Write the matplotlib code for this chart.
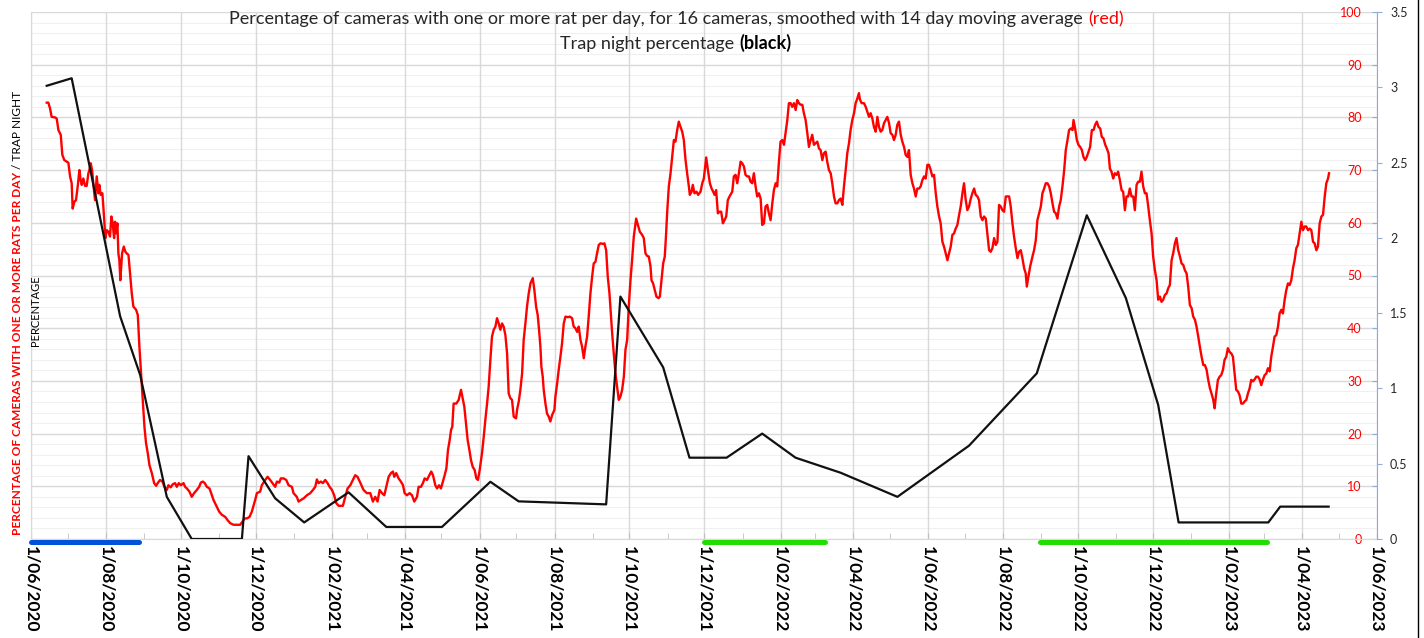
import pandas as pd
import matplotlib
matplotlib.use('Agg')
import matplotlib.pyplot as plt
import matplotlib.dates as mdates
from matplotlib.ticker import FuncFormatter
from matplotlib.lines import Line2D
from matplotlib.offsetbox import TextArea, HPacker, VPacker, AnchoredOffsetbox

plt.rcParams['font.family'] = ['Lato', 'DejaVu Sans']

start = pd.Timestamp('2020-06-01')

# red series: days after 1/06/2020 and % of cameras (14 day moving average)
red_day = [
    12.8, 14.1, 15.5, 16.8, 19.5, 20.9, 22.3, 24.2, 25.5, 27.1, 29.0, 30.4, 31.8, 33.1, 33.9, 35.3,
    36.6, 38.0, 39.4, 40.4, 41.3, 42.6, 44.0, 45.3, 46.7, 47.5, 48.6, 49.7, 50.8, 52.1, 53.5, 54.8,
    55.6, 56.7, 58.1, 59.4, 60.5, 61.6, 63.0, 64.3, 65.4, 66.5, 67.6, 68.4, 69.2, 70.3, 71.1, 71.9,
    72.7, 74.1, 75.5, 76.8, 77.9, 79.3, 80.6, 82.0, 83.3, 85.5, 86.9, 88.2, 89.6, 90.9, 92.3, 93.6,
    95.0, 96.4, 98.3, 100.2, 101.8, 103.1, 105.0, 106.9, 108.6, 110.5, 111.8, 113.7, 115.4, 117.3,
    118.6, 120.3, 121.9, 124.1, 125.4, 126.8, 128.9, 130.8, 132.7, 134.9, 136.8, 138.2, 139.8, 141.4,
    143.1, 145.2, 146.6, 148.5, 151.2, 153.1, 155.3, 158.0, 159.9, 162.1, 164.8, 167.5, 170.2, 172.1,
    173.7, 175.6, 177.8, 179.7, 182.4, 183.8, 186.5, 187.8, 190.6, 192.5, 194.6, 196.5, 198.7, 200.1,
    202.0, 203.3, 205.5, 207.7, 209.6, 212.3, 213.6, 216.3, 217.7, 219.6, 221.8, 224.5, 227.2, 229.4,
    231.3, 232.6, 234.0, 235.9, 237.5, 239.4, 241.3, 243.0, 244.9, 246.7, 248.4, 250.3, 252.2, 253.8,
    255.7, 257.6, 259.8, 261.9, 263.8, 265.7, 267.9, 270.6, 273.3,
    276.1, 278.2, 280.1, 282.0, 283.7, 285.6, 287.5, 289.1, 291.0, 292.9, 294.5, 295.6, 297.2, 299.1,
    301.0, 302.7, 304.0, 305.9, 308.1, 310.0, 311.9, 314.1, 315.4, 317.3, 318.9, 320.3, 322.2, 324.1,
    325.7, 327.1, 329.0, 330.4, 332.0, 333.6, 335.2, 336.6, 338.0, 339.3, 340.7, 341.8, 342.8, 343.9,
    346.1, 348.0, 349.9, 351.5, 352.6, 354.0, 355.3, 356.7, 358.0, 359.4, 361.0, 362.4, 363.7, 365.1,
    367.0, 368.4, 369.7, 371.1, 372.4, 373.8, 375.1, 376.5, 377.9, 379.2, 380.6, 381.9, 383.3, 384.6,
    386.0, 387.4, 388.7, 390.1, 391.4, 392.8, 394.7, 395.5, 396.9, 398.2, 399.6, 400.9, 402.3, 403.6,
    405.0, 406.4, 408.3, 409.6, 411.0, 412.3, 413.4, 414.5, 415.3, 416.4, 417.2, 418.6, 419.9, 421.3,
    422.6, 424.0, 425.9, 426.7, 428.1, 429.4, 430.8, 432.1, 433.5, 434.9, 436.8, 438.4, 440.3, 441.6,
    443.0, 444.4, 445.7, 447.1, 448.4, 449.8, 451.1, 452.5, 453.8, 455.2, 456.6, 457.9, 459.3, 460.6,
    462.0, 463.4, 465.3, 466.6, 468.0, 469.3, 470.7, 471.8, 472.9, 474.2, 475.6, 476.9, 478.3, 479.6,
    481.0, 482.4, 483.7, 485.1, 486.4, 487.8, 489.1, 490.5, 492.4, 493.8, 495.4, 497.3, 498.6, 500.0,
    501.4, 502.7, 504.1, 504.9, 506.2, 507.6, 508.9, 510.6, 511.7, 513.0, 514.4, 515.7, 516.8, 517.6,
    519.0, 520.4, 521.7, 523.1, 524.4, 525.8, 527.1, 528.5, 529.9, 531.2, 532.6, 533.9, 535.3, 536.1,
    537.5, 538.5, 539.9, 541.5, 542.9, 544.8,
    546.2, 547.5, 549.4, 550.8, 552.4, 553.8, 555.1, 556.2, 557.5, 558.9, 560.3, 561.6, 563.0, 564.3,
    565.7, 567.0, 568.4, 570.6, 571.9, 573.3, 574.7, 576.0, 577.4, 578.7, 580.1, 581.4, 582.8, 584.2,
    585.5, 586.9, 588.2, 589.6, 590.9, 592.3, 593.7, 595.0, 596.4, 597.7, 599.1, 600.4, 601.8, 603.2,
    604.5, 605.9, 607.2, 608.6, 609.9, 611.3, 612.7, 614.0, 615.4, 616.7, 618.1, 619.4, 620.8, 622.2,
    623.5, 624.9, 626.2, 627.6, 628.9, 630.3, 631.7, 633.0, 634.4, 635.7, 637.1, 638.4, 639.8, 641.2,
    642.5, 643.9, 645.2, 646.6, 647.9, 649.3, 650.7, 652.0, 653.4, 654.7, 656.1, 657.4, 658.8, 660.2,
    661.5, 662.9, 664.2, 665.6, 666.9, 668.3, 669.7, 671.0, 672.4, 673.7, 674.5, 675.9, 677.8, 679.2,
    680.5, 681.9, 683.2, 684.6, 685.9, 687.3, 688.7, 690.0, 691.4, 692.7, 694.1, 695.4, 696.8, 698.2,
    699.5, 700.9, 702.2, 703.6, 704.9, 706.3, 707.7, 709.0, 710.4, 711.7, 713.1, 714.4, 715.8, 717.2,
    718.5, 719.9, 721.2, 722.6, 723.9, 725.3, 726.7, 728.0, 729.4, 730.7, 732.1, 733.4, 734.8, 736.2,
    737.5, 738.9, 740.2, 741.6, 742.9, 744.3, 745.7, 747.0, 748.4, 749.7, 751.1, 752.4, 753.8, 755.2,
    756.5, 757.9, 759.2, 760.6, 761.9, 763.3, 764.7, 766.0, 767.4, 768.7, 770.1, 771.4, 772.8, 774.2,
    775.5, 776.9, 778.2, 779.6, 780.9, 782.3, 783.7, 785.0, 786.4, 787.7, 789.1, 790.4, 791.8, 793.2,
    794.5, 795.9, 797.2, 798.6, 799.9, 801.3, 802.7, 804.0, 805.4, 806.7, 808.1, 809.4, 810.3, 811.6,
    813.0,
    814.9, 816.2, 817.6, 818.9, 820.3, 821.7, 823.0, 824.4, 825.7, 827.1, 828.5, 829.8, 831.2, 832.5,
    833.9, 835.2, 836.6, 837.9, 839.3, 840.7, 842.0, 843.4, 844.7, 846.1, 847.5, 848.3, 849.6, 851.0,
    852.3, 853.7, 855.1, 856.4, 857.8, 859.1, 860.5, 861.8, 863.2, 864.6, 865.9, 867.3, 868.6, 870.0,
    871.3, 872.7, 874.1, 875.4, 876.8, 877.9, 879.2, 880.6, 881.9, 883.3, 884.6, 886.0, 887.4, 888.7,
    890.1, 891.4, 892.8, 894.1, 895.5, 896.9, 898.2, 899.6, 900.9, 902.3, 903.6, 905.0, 906.4, 907.7,
    909.1, 910.4, 911.8, 913.1, 914.5, 915.9, 917.2, 918.6, 919.9, 921.3, 922.6, 924.0, 925.4, 926.7,
    928.1, 929.4, 930.8, 932.1, 933.5, 934.9, 936.2, 937.6, 938.9, 940.3, 941.6, 943.0, 944.4, 945.7,
    947.1, 948.4, 949.8, 951.1, 952.5, 953.9, 955.2, 956.6, 957.9, 959.3, 960.6, 962.0, 963.1, 964.4,
    965.8, 967.2, 968.5, 969.9, 971.2, 972.6, 973.9, 975.3, 976.7, 978.0, 979.4, 980.7, 982.1, 983.4,
    984.8, 986.2, 987.5, 988.9, 990.2, 991.6, 992.9, 994.3, 995.7, 997.0, 998.4, 999.7, 1001.1, 1002.4,
    1003.8, 1005.2, 1006.5, 1007.9, 1009.2, 1010.6, 1011.9, 1013.3, 1014.7, 1016.0, 1017.4, 1018.7,
    1020.1, 1021.4, 1022.8, 1024.2, 1025.5, 1026.9, 1028.2, 1029.6, 1030.9, 1032.3, 1033.7, 1035.0,
    1036.4, 1037.7, 1039.1, 1040.5, 1041.8, 1043.2, 1044.5, 1045.9, 1047.2, 1048.6, 1050.0, 1051.3,
    1052.7, 1054.0, 1055.4, 1056.2,
]
red_pct = [
    82.8, 82.8, 81.7, 80.1, 80.0, 79.8, 77.6, 76.7, 72.9, 71.9, 71.6, 71.4, 68.8, 67.5, 62.7, 64.0,
    64.3, 66.9, 70.0, 68.1, 67.2, 68.4, 67.0, 67.0, 69.4, 70.0, 71.3, 70.0, 67.2, 64.3, 68.8, 65.6,
    67.2, 65.3, 65.6, 61.2, 57.1, 58.6, 58.3, 57.4, 61.2, 59.9, 57.1, 60.2, 58.0, 59.9, 54.2, 52.9,
    49.1, 54.2, 55.5, 54.5, 54.2, 53.9, 50.4, 46.6, 44.1, 43.5, 42.5, 36.5, 31.4, 26.4, 21.3, 18.2,
    16.3, 14.0, 12.5, 10.6, 10.1, 10.6, 11.2, 10.9, 9.9, 9.3, 10.2, 9.8, 10.4, 10.6,
    9.9, 10.6, 10.2, 10.6, 9.9, 9.6, 9.0, 8.0, 8.7, 9.3, 9.9, 10.7, 10.9, 10.6,
    9.9, 9.6, 8.7, 7.4, 6.1, 5.2, 4.6, 4.2, 3.6, 3.0, 2.7, 2.7, 2.7, 3.3,
    3.9, 3.9, 4.2, 5.2, 7.4, 8.7, 9.0, 10.2, 11.2, 11.8, 11.2, 10.6, 9.9, 10.9,
    10.7, 11.5, 11.5, 11.2, 10.2, 9.9, 8.7, 8.0, 7.1, 7.4, 7.7, 8.3, 8.7, 9.3,
    9.9, 11.3, 10.6, 10.9, 10.6, 11.2, 10.6, 9.9, 9.3, 8.3, 6.8, 6.3, 6.3, 6.3,
    8.0, 9.6, 10.2, 11.2, 12.1, 11.8, 10.7, 9.3, 8.7,
    8.7, 7.1, 8.0, 7.1, 9.3, 8.7, 8.3, 9.9, 11.8, 12.5, 12.8, 11.8, 12.5, 11.5,
    10.9, 10.2, 8.7, 8.3, 8.7, 8.3, 7.1, 8.0, 9.9, 9.9, 10.6, 11.5, 11.2, 12.1,
    12.8, 12.1, 10.2, 9.6, 10.2, 9.6, 10.9, 12.1, 13.4, 16.9, 18.8, 20.7, 21.3, 25.7,
    25.7, 26.4, 28.3, 26.4, 25.1, 21.9, 18.8, 16.9, 15.0, 13.7, 13.1, 11.5, 11.2, 13.1,
    16.3, 19.4, 22.6, 25.7, 28.9, 34.0, 38.4, 39.7, 40.3, 41.9, 40.9, 39.7, 40.9, 40.3,
    38.7, 35.2, 27.6, 26.7, 26.4, 23.2, 22.9, 24.5, 26.1, 28.3, 31.4, 37.8, 40.9, 44.1,
    46.6, 48.5, 49.5, 47.2, 44.1, 42.5, 39.7, 36.5, 32.7, 30.8, 28.3, 25.7, 23.8, 23.2,
    22.3, 23.5, 24.5, 27.0, 29.5, 32.1, 34.6, 37.1, 40.9, 42.2, 42.1, 42.2, 41.9, 40.3,
    40.0, 39.3, 40.3, 37.8, 36.5, 34.3, 36.5, 38.4, 42.2, 46.6, 49.8, 52.3, 52.6, 54.2,
    55.8, 56.1, 56.0, 56.1, 54.8, 49.8, 46.6, 42.8, 39.0, 35.2, 31.4, 28.9, 26.4, 27.0,
    28.3, 30.8, 35.9, 37.8, 44.1, 49.1, 52.9, 57.4, 60.8, 59.6, 58.3, 57.7, 57.1, 54.2,
    53.7, 53.6, 51.7, 49.1, 48.5, 47.2, 46.0, 45.7, 46.0, 49.1, 52.3, 53.6, 58.0, 61.8,
    66.9, 69.4, 72.5, 75.7, 75.4, 77.6, 79.2, 78.2, 77.3, 75.7, 71.9, 69.4, 66.9, 65.3,
    65.9, 67.2, 65.6, 65.9, 65.3, 65.9,
    67.5, 68.4, 72.4, 70.0, 67.5, 66.5, 65.9, 65.3, 66.2, 61.8, 62.1, 62.1, 59.9, 60.5,
    61.2, 64.3, 65.0, 65.9, 68.8, 69.1, 67.5, 69.4, 71.6, 71.3, 70.7, 69.1, 68.8, 68.8,
    67.8, 67.5, 69.4, 66.9, 65.0, 65.6, 64.6, 59.6, 59.9, 63.1, 63.4, 61.8, 60.5, 63.7,
    66.2, 67.5, 66.9, 71.6, 75.4, 75.7, 74.8, 77.0, 79.5, 82.7, 82.7, 82.0, 82.7, 81.4,
    83.3, 82.7, 82.4, 82.4, 80.8, 79.5, 77.0, 74.4, 75.7, 76.7, 74.8, 75.1, 75.4, 74.1,
    73.8, 71.9, 73.2, 73.5, 71.6, 70.0, 69.4, 67.5, 65.0, 63.7, 63.7, 64.3, 64.6, 63.4,
    66.9, 70.0, 73.2, 75.1, 77.6, 79.5, 80.8, 82.7, 83.6, 84.6, 83.4, 82.7, 82.7, 82.0,
    81.1, 80.1, 80.8, 79.8, 78.2, 77.3, 80.1, 78.2, 77.3, 77.6, 78.9, 79.5, 80.1, 78.9,
    77.0, 76.7, 75.7, 76.7, 78.6, 79.2, 76.7, 75.4, 74.4, 72.9, 72.5, 73.8, 69.1, 67.5,
    66.5, 65.0, 66.5, 66.5, 66.9, 68.1, 68.8, 68.4, 71.0, 71.0, 70.0, 68.8, 69.1, 65.6,
    63.1, 61.2, 59.9, 56.4, 55.5, 54.2, 52.9, 54.2, 55.5, 57.7, 58.0, 58.9, 59.6, 61.5,
    63.1, 65.6, 67.5, 64.3, 62.4, 63.1, 64.6, 65.6, 66.5, 65.3, 65.0, 64.3, 61.2, 60.5,
    61.2, 60.8, 58.0, 54.8, 54.5, 55.2, 57.1, 55.8, 56.4, 63.4, 63.1, 62.4, 62.1, 65.0,
    65.0, 65.0, 63.1, 59.9, 57.4, 55.2, 53.3, 54.5, 54.8, 53.3, 51.4, 50.4, 47.9, 49.8,
    51.7,
    53.6, 54.8, 56.7, 60.5, 61.8, 63.1, 65.6, 66.5, 67.5, 67.5, 66.9, 65.6, 63.7, 62.1,
    61.8, 60.8, 63.1, 64.3, 66.9, 70.0, 73.8, 75.7, 77.6, 77.9, 77.6, 79.5, 77.9, 75.7,
    74.8, 74.4, 73.8, 72.5, 71.9, 72.5, 73.5, 74.4, 77.6, 77.6, 78.6, 79.2, 78.2, 77.9,
    76.3, 76.0, 74.8, 74.1, 73.2, 70.3, 69.7, 68.4, 69.4, 69.1, 69.7, 68.1, 66.2, 65.9,
    62.4, 65.0, 65.0, 66.5, 65.0, 65.0, 62.4, 67.2, 67.8, 67.8, 69.7, 66.9, 65.6, 65.6,
    63.1, 60.5, 58.0, 53.6, 51.0, 49.1, 45.4, 46.0, 45.0, 45.4, 46.3, 46.6, 47.6, 48.2,
    52.9, 54.2, 56.1, 57.1, 54.8, 53.6, 52.3, 52.0, 51.0, 50.4, 47.9, 44.4, 43.8, 42.2,
    41.6, 40.3, 38.4, 36.5, 34.6, 33.0, 33.0, 32.1, 30.2, 28.6, 27.6, 26.4, 24.8, 27.6,
    30.2, 30.8, 31.1, 32.1, 34.0, 34.6, 36.2, 35.5, 35.2, 34.6, 31.4, 28.3, 28.0, 27.3,
    25.7, 25.7, 26.1, 26.4, 27.6, 28.6, 30.2, 29.9, 30.3, 30.8, 30.8, 30.3, 29.2, 30.2,
    31.1, 31.4, 32.4, 31.8, 34.6, 36.5, 38.4, 38.7, 40.3, 42.8, 43.5, 42.8,
    45.4, 47.2, 48.5, 48.2, 49.1, 51.4, 52.9, 55.2, 55.8, 58.0, 60.2, 58.6,
    59.3, 59.3, 58.6, 58.9, 58.6, 56.4, 56.1, 54.8, 55.5, 59.9, 61.2, 61.5,
    65.0, 67.5, 68.4, 69.4,
]

# black series: trap night percentage (right axis)
black_day = [12.8, 33.1, 72.5, 88.8, 110.5, 130.8, 171.6, 177.0, 198.7, 222.3, 258.4, 289.1, 334.4,
             373.8, 396.8, 468.0, 479.6, 514.4, 535.8, 566.0, 595.0, 622.1, 658.8, 705.0, 763.3,
             818.4, 859.1, 890.9, 917.2, 933.8, 1006.8, 1016.5, 1055.9]
black_val = [3.01, 3.06, 1.48, 1.09, 0.28, 0.0, 0.0, 0.55, 0.27, 0.11, 0.31, 0.08, 0.08,
             0.38, 0.25, 0.23, 1.61, 1.14, 0.54, 0.54, 0.70, 0.54, 0.44, 0.28, 0.62,
             1.10, 2.15, 1.60, 0.89, 0.11, 0.11, 0.215, 0.215]

# coloured periods under the axis (start day, end day)
blue_period = [0, 88]
green_periods = [[548, 646], [821, 1006]]

red_x = start + pd.to_timedelta(red_day, unit='D')
black_x = start + pd.to_timedelta(black_day, unit='D')

fig = plt.figure(figsize=(14.24, 6.38), dpi=100)
fig.patch.set_facecolor('white')
ax = fig.add_axes([31 / 1424, 1 - 539 / 638, (1376.7 - 31) / 1424, (539 - 12) / 638])
ax2 = ax.twinx()

grid_c = '#d9d9d9'
ax.set_xlim(start, start + pd.Timedelta(days=1095))
ax.set_ylim(0, 100)
ax2.set_ylim(0, 3.5)

# faint sheet rows behind the chart
for yv in range(2, 100, 2):
    ax.axhline(yv, color='#f0f0f0', lw=0.8, zorder=0)
ax.grid(True, which='major', color=grid_c, lw=1.0, zorder=0.5)

ax.xaxis.set_major_locator(mdates.MonthLocator(bymonth=[2, 4, 6, 8, 10, 12]))
ax.xaxis.set_minor_locator(mdates.MonthLocator())
ax.xaxis.set_major_formatter(FuncFormatter(
    lambda v, p: f"{mdates.num2date(v).day}/{mdates.num2date(v).month:02d}/{mdates.num2date(v).year}"))
ax.tick_params(axis='x', which='both', direction='in', length=4, color='#bfbfbf', pad=5,
               labelsize=12.5, labelrotation=-90)
for lab in ax.get_xticklabels():
    lab.set_fontweight('bold')

ax.set_yticks(range(0, 101, 10))
ax.yaxis.tick_right()
ax.tick_params(axis='y', direction='in', length=3.6, color='#8faadc', pad=-10.8,
               labelsize=9, labelcolor='red')
for lab in ax.get_yticklabels():
    lab.set_horizontalalignment('right')

ax2.set_yticks([0, 0.5, 1, 1.5, 2, 2.5, 3, 3.5])
ax2.set_yticklabels(['0', '0.5', '1', '1.5', '2', '2.5', '3', '3.5'])
ax2.tick_params(axis='y', direction='out', length=3.6, color='#8faadc', pad=6,
                labelsize=9, labelcolor='#262626')

for s in ['top', 'right']:
    ax.spines[s].set_visible(False)
ax.spines['left'].set_color(grid_c)
ax.spines['bottom'].set_color(grid_c)
for s in ['top', 'left', 'bottom']:
    ax2.spines[s].set_visible(False)
ax2.spines['right'].set_color('#8faadc')

ax.plot(red_x, red_pct, color='#ff0000', lw=1.7, zorder=3)
ax2.plot(black_x, black_val, color='#111111', lw=1.6, zorder=3)

bar_y = -0.6
ax.plot(start + pd.to_timedelta(blue_period, unit='D'), [bar_y, bar_y], color='#0052d9', lw=3.6,
        solid_capstyle='round', clip_on=False, zorder=4)
for p in green_periods:
    ax.plot(start + pd.to_timedelta(p, unit='D'), [bar_y, bar_y], color='#22dd00', lw=3.6,
            solid_capstyle='round', clip_on=False, zorder=4)

# title in two lines with coloured parts
tc = '#262626'
line1 = HPacker(children=[
    TextArea('Percentage of cameras with one or more rat per day, for 16 cameras, smoothed with 14 day moving average',
             textprops=dict(color=tc, fontsize=13)),
    TextArea('(red)', textprops=dict(color='red', fontsize=13))],
    sep=4, pad=0, align='baseline')
line2 = HPacker(children=[
    TextArea('Trap night percentage', textprops=dict(color=tc, fontsize=13)),
    TextArea('(black)', textprops=dict(color='black', fontsize=13, fontweight='bold'))],
    sep=4, pad=0, align='baseline')
title_box = VPacker(children=[line1, line2], sep=5, pad=0, align='center')
fig.add_artist(AnchoredOffsetbox(loc='upper center', child=title_box, pad=0, borderpad=0, frameon=False,
                                 bbox_to_anchor=(676 / 1424, 1 - 11 / 638),
                                 bbox_transform=fig.transFigure))

# left axis title: red part then black part stacked upwards
t_red = fig.text(18 / 1424, 1 - 535 / 638, 'PERCENTAGE OF CAMERAS WITH ONE OR MORE RATS PER DAY',
                 rotation=90, color='red', fontsize=8.6, fontweight='bold', ha='center', va='bottom')
ax.annotate(' / TRAP NIGHT', xy=(0.5, 1), xycoords=t_red, rotation=90, color='black', fontsize=8.6,
            ha='center', va='bottom', annotation_clip=False)
fig.text(35 / 1424, 1 - 311 / 638, 'PERCENTAGE', rotation=90, color='black', fontsize=8,
         ha='center', va='center')

# chart border on the right
fig.add_artist(Line2D([1418 / 1424, 1418 / 1424], [0, 1], color='black', lw=1))

fig.savefig('out.png', dpi=100)
